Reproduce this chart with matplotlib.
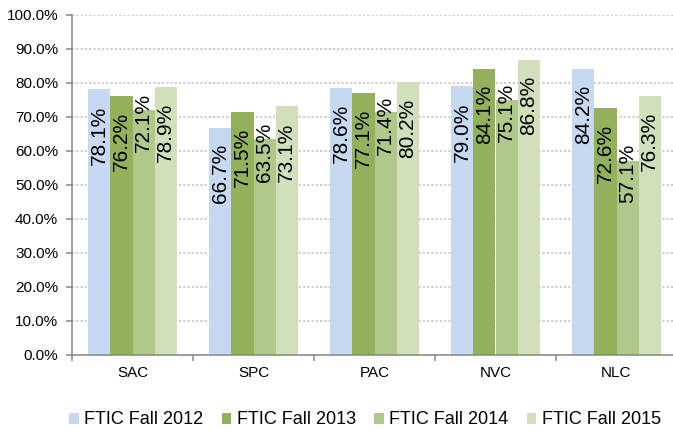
import numpy as np
import matplotlib.pyplot as plt

plt.rcParams['font.family'] = ['Liberation Sans', 'DejaVu Sans']

# Dades
campus = ['SAC', 'SPC', 'PAC', 'NVC', 'NLC']
series = ['FTIC Fall 2012', 'FTIC Fall 2013', 'FTIC Fall 2014', 'FTIC Fall 2015']
fall_2012 = [78.1, 66.7, 78.6, 79.0, 84.2]
fall_2013 = [76.2, 71.5, 77.1, 84.1, 72.6]
fall_2014 = [72.1, 63.5, 71.4, 75.1, 57.1]
fall_2015 = [78.9, 73.1, 80.2, 86.8, 76.3]
colors = ['#C6D9F0', '#92B15A', '#B0C98A', '#D1DFBB']

values = [fall_2012, fall_2013, fall_2014, fall_2015]

fig = plt.figure(figsize=(6.73, 4.30), dpi=100)
ax = fig.add_axes([72 / 673, 75 / 430, 605 / 673, 340 / 430])

x = np.arange(len(campus))
width = 0.182
for i, (vals, name, col) in enumerate(zip(values, series, colors)):
    pos = x + (i - 1.5) * width
    ax.bar(pos, vals, width, color=col, label=name, zorder=2)
    # etiquetes rotades; la serie 2014 queda per sobre de la barra
    dy = 12 if i == 2 else -11.5
    for px, v in zip(pos, vals):
        ax.annotate(f'{v:.1f}%', (px, v), xytext=(0, dy), textcoords='offset points',
                    rotation=90, ha='center', va='top', fontsize=15, zorder=3)

ax.set_xlim(-0.5, len(campus) - 0.5)
ax.set_ylim(0, 100)
ax.set_yticks(np.arange(0, 101, 10))
ax.set_yticklabels([f'{t:.1f}%' for t in np.arange(0, 101, 10)])
ax.set_xticks(x)
ax.set_xticklabels(campus)
ax.set_xticks(np.arange(-0.5, len(campus)), minor=True)

ax.tick_params(axis='y', length=4, width=1.1, color='#868686', pad=6, labelsize=11)
ax.tick_params(axis='x', which='major', length=0, pad=8, labelsize=11)
ax.tick_params(axis='x', which='minor', length=4, width=1.1, color='#868686')

ax.grid(axis='y', color='#BFBFBF', linestyle=(0, (1.4, 1.4)), linewidth=1.1, zorder=0)
for s in ['top', 'right']:
    ax.spines[s].set_visible(False)
for s in ['left', 'bottom']:
    ax.spines[s].set_color('#868686')
    ax.spines[s].set_linewidth(1.1)
    ax.spines[s].set_zorder(4)

fig.legend(loc='center', bbox_to_anchor=(365 / 673, 10 / 430), ncol=4, frameon=False,
           fontsize=13, handlelength=0.55, handleheight=0.55, handletextpad=0.3,
           columnspacing=1.0, borderaxespad=0)

fig.savefig('out.png', dpi=100)
